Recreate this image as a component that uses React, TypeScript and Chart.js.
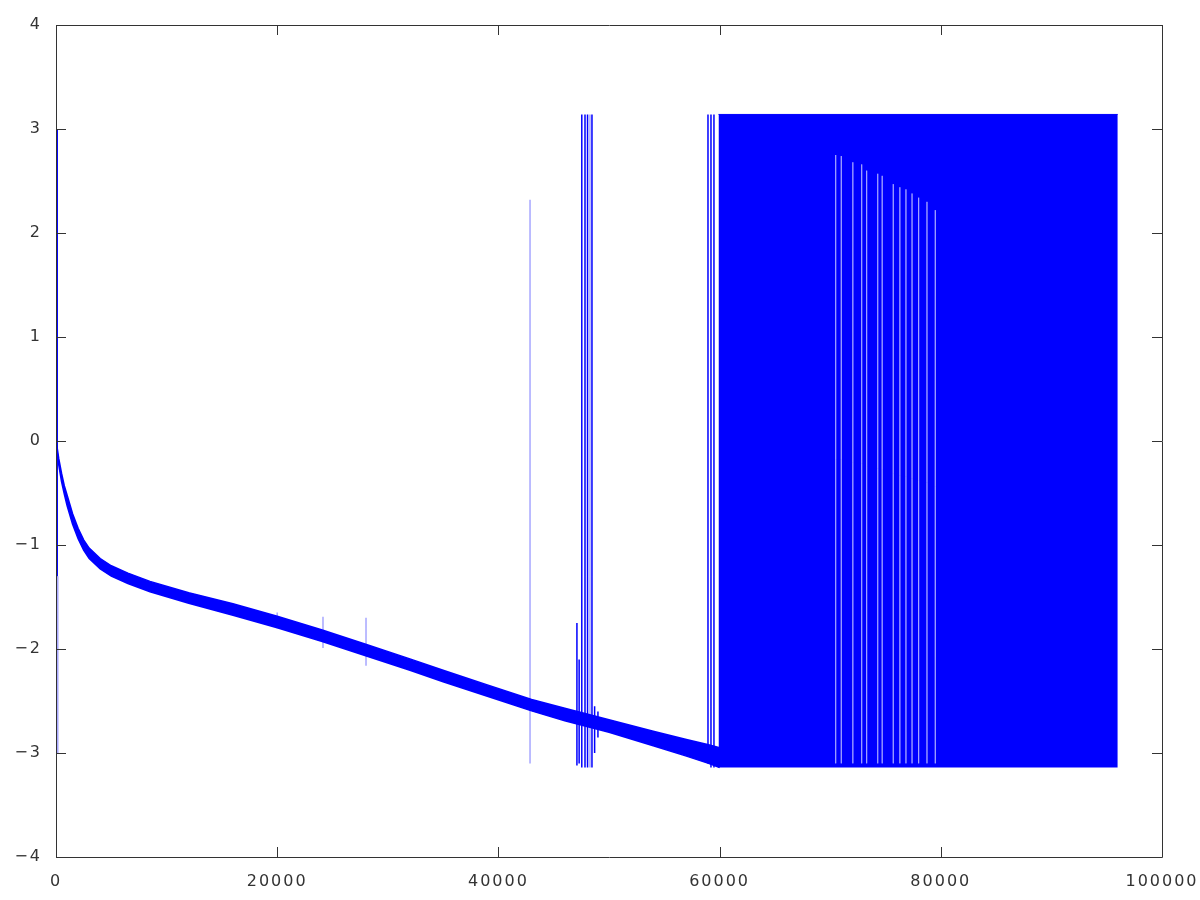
import React, { useEffect, useRef } from "react";
import { Chart, registerables } from "chart.js";

Chart.register(...registerables);

// Main decaying band (upper / lower envelope)
const bandX = [0, 100, 250, 500, 750, 1000, 1500, 2000, 2500, 3000, 4000, 5000, 6500, 8500, 12000, 16000, 20000, 24000, 28000, 32000, 35000, 39000, 43000, 46000, 50000, 54000, 57000, 59000, 60000];
const bandUpper = [0.01, -0.06, -0.17, -0.31, -0.43, -0.52, -0.7, -0.84, -0.95, -1.03, -1.13, -1.2, -1.27, -1.35, -1.46, -1.565, -1.685, -1.815, -1.955, -2.095, -2.205, -2.345, -2.485, -2.57, -2.68, -2.79, -2.87, -2.92, -2.95];
const bandLower = [-0.01, -0.1, -0.23, -0.39, -0.51, -0.62, -0.8, -0.94, -1.05, -1.13, -1.23, -1.3, -1.37, -1.45, -1.56, -1.675, -1.795, -1.925, -2.065, -2.205, -2.315, -2.455, -2.595, -2.69, -2.8, -2.93, -3.03, -3.1, -3.14];

// Dense wrapped region (solid block between -pi and pi)
const blockX = [59900, 96000];
const blockTop = [3.14, 3.14];
const blockBottom = -3.14;

// Solid wrap spikes
const spikeX = [110, 47100, 47300, 47540, 47830, 48060, 48460, 48700, 49000, 58950, 59220, 59490];
const spikeTop = [3.0, -1.75, -2.1, 3.14, 3.14, 3.14, 3.14, -2.55, -2.6, 3.14, 3.14, 3.14];
const spikeBottom = [-1.3, -3.12, -3.1, -3.14, -3.14, -3.14, -3.14, -3.0, -2.85, -3.1, -3.14, -3.14];

// Faint spikes
const faintX = [160, 20000, 24140, 28030, 42860, 48280];
const faintTop = [-1.3, -1.65, -1.69, -1.7, 2.32, 3.14];
const faintBottom = [-3.0, -1.8, -1.99, -2.16, -3.1, -3.14];

// Pale gaps inside the dense block
const gapX = [70500, 71000, 72050, 72850, 73300, 74300, 74700, 75700, 76300, 76850, 77400, 78000, 78750, 79500];
const gapTop = [2.75, 2.74, 2.68, 2.66, 2.6, 2.57, 2.55, 2.47, 2.44, 2.42, 2.38, 2.34, 2.3, 2.22];
const gapBottom = -3.1;

const xTickValues = [0, 20000, 40000, 60000, 80000, 100000];
const yTickValues = [-4, -3, -2, -1, 0, 1, 2, 3, 4];

function segments(xs: number[], tops: number[], bots: number[] | number) {
  const out: { x: number; y: number | null }[] = [];
  xs.forEach((x, i) => {
    const b = Array.isArray(bots) ? bots[i] : bots;
    out.push({ x, y: tops[i] });
    out.push({ x, y: b });
    out.push({ x, y: null });
  });
  return out;
}

const BLUE = "#0000ff";
const AXIS = "#333333";

const frameTicks = {
  id: "frameTicks",
  beforeDraw(chart: any) {
    chart.ctx.letterSpacing = "2px";
  },
  afterDraw(chart: any) {
    const ctx = chart.ctx;
    ctx.letterSpacing = "0px";
    const { left, right, top, bottom } = chart.chartArea;
    const xs = chart.scales.x;
    const ys = chart.scales.y;
    const L = 10;
    ctx.save();
    ctx.strokeStyle = AXIS;
    ctx.lineWidth = 1;
    ctx.beginPath();
    ctx.rect(left + 0.5, top + 0.5, right - left, bottom - top);
    xs.ticks.forEach((t: any) => {
      const px = Math.round(xs.getPixelForValue(t.value)) + 0.5;
      ctx.moveTo(px, bottom);
      ctx.lineTo(px, bottom - L);
      ctx.moveTo(px, top);
      ctx.lineTo(px, top + L);
    });
    ys.ticks.forEach((t: any) => {
      const py = Math.round(ys.getPixelForValue(t.value)) + 0.5;
      ctx.moveTo(left, py);
      ctx.lineTo(left + L, py);
      ctx.moveTo(right, py);
      ctx.lineTo(right - L, py);
    });
    ctx.stroke();
    ctx.restore();
  },
};

export default function App() {
  const ref = useRef<HTMLCanvasElement>(null);
  useEffect(() => {
    if (!ref.current) return;
    const chart = new Chart(ref.current, {
      type: "line",
      data: {
        datasets: [
          {
            label: "gaps",
            data: segments(gapX, gapTop, gapBottom),
            borderColor: "rgba(255,255,255,0.35)",
            borderWidth: 1,
            pointRadius: 0,
            spanGaps: false,
            fill: false,
            order: 0,
          },
          {
            label: "spikes",
            data: segments(spikeX, spikeTop, spikeBottom),
            borderColor: BLUE,
            borderWidth: 1.5,
            pointRadius: 0,
            spanGaps: false,
            fill: false,
            order: 1,
          },
          {
            label: "faint",
            data: segments(faintX, faintTop, faintBottom),
            borderColor: "rgba(0,0,255,0.35)",
            borderWidth: 1.5,
            pointRadius: 0,
            spanGaps: false,
            fill: false,
            order: 2,
          },
          {
            label: "upper",
            data: bandX.map((x, i) => ({ x, y: bandUpper[i] })),
            borderColor: BLUE,
            backgroundColor: BLUE,
            borderWidth: 1.5,
            pointRadius: 0,
            fill: "+1",
            order: 3,
          },
          {
            label: "lower",
            data: bandX.map((x, i) => ({ x, y: bandLower[i] })),
            borderColor: BLUE,
            borderWidth: 1.5,
            pointRadius: 0,
            fill: false,
            order: 4,
          },
          {
            label: "block",
            data: blockX.map((x, i) => ({ x, y: blockTop[i] })),
            borderColor: BLUE,
            backgroundColor: BLUE,
            borderWidth: 1,
            pointRadius: 0,
            fill: { value: blockBottom },
            order: 5,
          },
        ],
      },
      options: {
        animation: false,
        responsive: false,
        devicePixelRatio: 1,
        layout: { padding: { top: 25, right: 38, left: 0, bottom: 0 } },
        elements: { line: { tension: 0 } },
        plugins: { legend: { display: false }, tooltip: { enabled: false } },
        scales: {
          x: {
            type: "linear",
            min: 0,
            max: 100000,
            grid: { display: false, drawTicks: false },
            border: { display: false },
            afterFit: (s: any) => {
              s.height = 43;
              s.paddingLeft = 0;
              s.paddingRight = 0;
            },
            afterBuildTicks: (s: any) => {
              s.ticks = xTickValues.map((v) => ({ value: v }));
            },
            ticks: {
              autoSkip: false,
              maxRotation: 0,
              padding: 15,
              color: AXIS,
              font: { family: "DejaVu Sans", size: 16 },
              callback: (v: any) => String(v),
            },
          },
          y: {
            type: "linear",
            min: -4,
            max: 4,
            grid: { display: false, drawTicks: false },
            border: { display: false },
            afterFit: (s: any) => {
              s.width = 56;
              s.paddingTop = 0;
              s.paddingBottom = 0;
            },
            afterBuildTicks: (s: any) => {
              s.ticks = yTickValues.map((v) => ({ value: v }));
            },
            ticks: {
              padding: 14,
              color: AXIS,
              font: { family: "DejaVu Sans", size: 16 },
              callback: (v: any) => String(v).replace("-", "\u2212"),
            },
          },
        },
      },
      plugins: [frameTicks],
    });
    return () => chart.destroy();
  }, []);
  return (
    <div style={{ position: "absolute", left: 0, top: 0, width: 1200, height: 900, background: "#fff" }}>
      <canvas ref={ref} width={1200} height={900} style={{ display: "block" }} />
    </div>
  );
}
